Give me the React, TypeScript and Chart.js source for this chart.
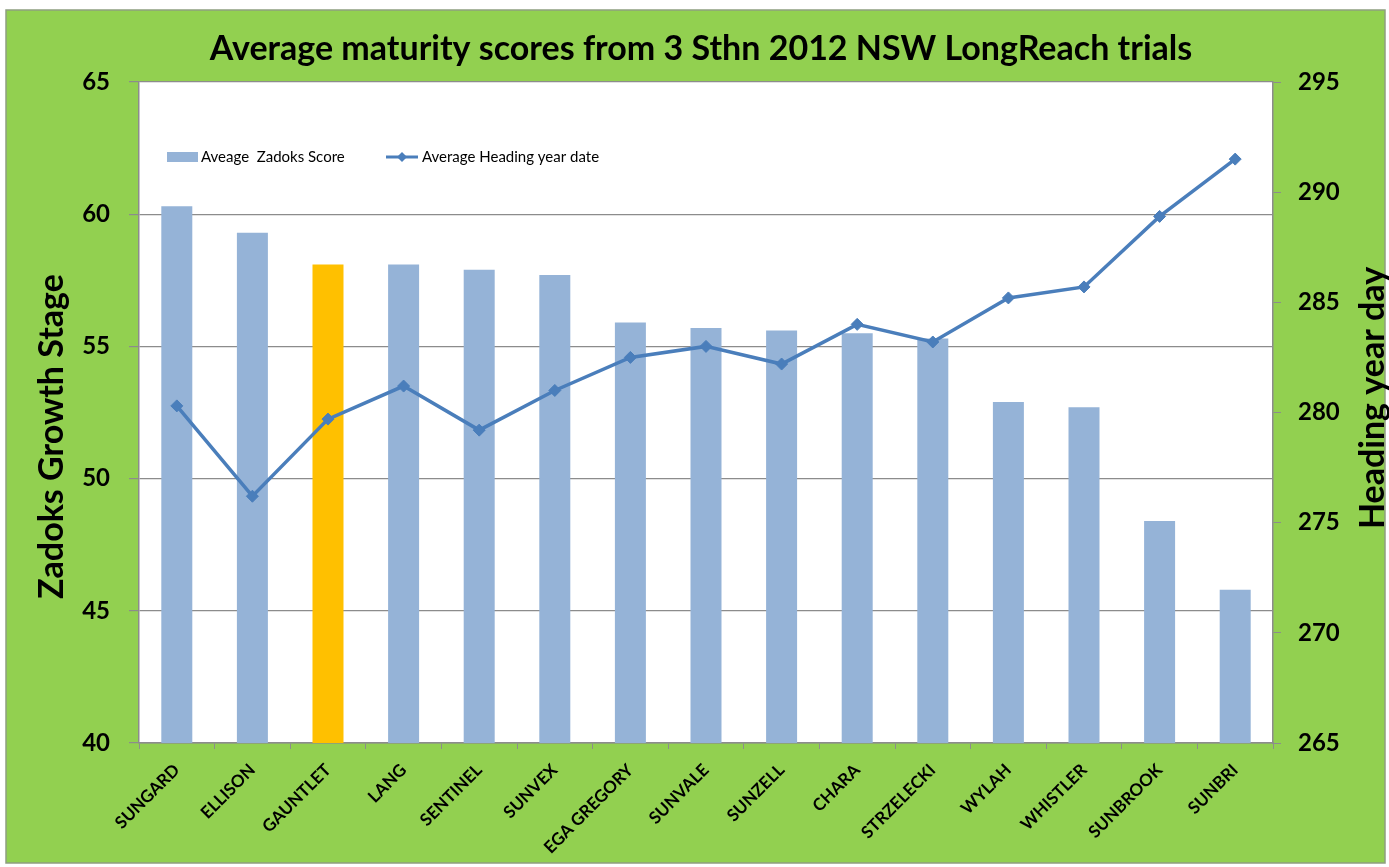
import React, { useEffect, useRef } from "react";
import { Chart, registerables } from "chart.js";

Chart.register(...registerables);

const categories = [
  "SUNGARD", "ELLISON", "GAUNTLET", "LANG", "SENTINEL", "SUNVEX", "EGA GREGORY",
  "SUNVALE", "SUNZELL", "CHARA", "STRZELECKI", "WYLAH", "WHISTLER", "SUNBROOK", "SUNBRI",
];
const zadoksScores = [60.3, 59.3, 58.1, 58.1, 57.9, 57.7, 55.9, 55.7, 55.6, 55.5, 55.3, 52.9, 52.7, 48.4, 45.8];
const headingDays = [280.3, 276.2, 279.7, 281.2, 279.2, 281.0, 282.5, 283.0, 282.2, 284.0, 283.2, 285.2, 285.7, 288.9, 291.5];
const leftAxisRange = [40, 65];
const rightAxisRange = [265, 295];
const tickStep = 5;
const highlightedCategory = "GAUNTLET";

const titleText = "Average maturity scores from 3 Sthn 2012 NSW LongReach trials";
const barLabel = "Aveage  Zadoks Score";
const lineLabel = "Average Heading year date";
const leftAxisTitle = "Zadoks Growth Stage";
const rightAxisTitle = "Heading year day";

const W = 1389;
const H = 867;
const FONT = "Lato, 'Open Sans', sans-serif";
const GREEN = "#92D050";
const BAR = "#95B3D7";
const HIGHLIGHT = "#FFC000";
const LINE = "#4A7EBB";
const GRID = "#8C8C8C";

const AREA = { left: 139, right: 1273, top: 82, bottom: 743 };
const PAD = { left: 20, right: 7, top: 10, bottom: 5 };

const decorPlugin = {
  id: "decor",
  beforeDraw(chart: any) {
    const ctx = chart.ctx;
    const ca = chart.chartArea;
    ctx.save();
    ctx.fillStyle = "#ffffff";
    ctx.fillRect(0, 0, W, H);
    ctx.fillStyle = GREEN;
    ctx.fillRect(6, 10, W - 10, H - 14);
    ctx.strokeStyle = "#8E9E80";
    ctx.lineWidth = 1.5;
    ctx.strokeRect(6, 10, W - 10, H - 14);
    ctx.fillStyle = "#ffffff";
    ctx.fillRect(ca.left, ca.top, ca.right - ca.left, ca.bottom - ca.top);
    ctx.restore();
  },
  afterDraw(chart: any) {
    const ctx = chart.ctx;
    const ca = chart.chartArea;
    ctx.save();
    // axis titles
    ctx.fillStyle = "#000";
    ctx.font = `bold 34px ${FONT}`;
    ctx.textAlign = "center";
    ctx.textBaseline = "middle";
    ctx.save();
    ctx.translate(52, (ca.top + ca.bottom) / 2 + 24);
    ctx.rotate(-Math.PI / 2);
    ctx.fillText(leftAxisTitle, 0, 0);
    ctx.restore();
    ctx.save();
    ctx.translate(1373, 398);
    ctx.rotate(-Math.PI / 2);
    ctx.fillText(rightAxisTitle, 0, 0);
    ctx.restore();

    // legend inside plot area
    const ly = 157;
    ctx.fillStyle = BAR;
    ctx.fillRect(167, ly - 5, 31, 10);
    ctx.fillStyle = "#000";
    ctx.font = `15px ${FONT}`;
    ctx.textAlign = "left";
    ctx.textBaseline = "middle";
    ctx.fillText(barLabel, 201, ly);
    ctx.strokeStyle = LINE;
    ctx.lineWidth = 3;
    ctx.beginPath();
    ctx.moveTo(386, ly);
    ctx.lineTo(418, ly);
    ctx.stroke();
    ctx.fillStyle = LINE;
    ctx.beginPath();
    ctx.moveTo(402, ly - 5);
    ctx.lineTo(407, ly);
    ctx.lineTo(402, ly + 5);
    ctx.lineTo(397, ly);
    ctx.closePath();
    ctx.fill();
    ctx.fillStyle = "#000";
    ctx.fillText(lineLabel, 422, ly);
    ctx.restore();
  },
};

export default function App() {
  const ref = useRef<HTMLCanvasElement | null>(null);

  useEffect(() => {
    if (!ref.current) return;
    const chart = new Chart(ref.current, {
      type: "bar",
      data: {
        labels: categories,
        datasets: [
          {
            type: "line",
            label: lineLabel,
            data: headingDays,
            yAxisID: "y1",
            borderColor: LINE,
            backgroundColor: LINE,
            borderWidth: 3.5,
            pointStyle: "rectRot",
            pointRadius: 6,
            pointBorderWidth: 1,
            pointBackgroundColor: LINE,
            pointBorderColor: LINE,
            tension: 0,
            order: 0,
          } as any,
          {
            type: "bar",
            label: barLabel,
            data: zadoksScores,
            yAxisID: "y",
            backgroundColor: categories.map((c) => (c === highlightedCategory ? HIGHLIGHT : BAR)),
            borderWidth: 0,
            categoryPercentage: 1,
            barPercentage: 0.41,
            order: 1,
          } as any,
        ],
      },
      options: {
        responsive: false,
        animation: false,
        layout: { padding: PAD },
        plugins: {
          legend: { display: false },
          tooltip: { enabled: false },
          title: {
            display: true,
            text: titleText,
            color: "#000",
            font: { family: FONT, weight: "bold", size: 34, lineHeight: 1.2 },
            padding: { top: 19, bottom: 12.2 },
          },
        },
        scales: {
          x: {
            type: "category",
            offset: true,
            grid: { offset: true, drawOnChartArea: false, drawTicks: true, tickLength: 6, color: GRID },
            border: { color: GRID, width: 1.5 },
            ticks: {
              color: "#000",
              font: { family: FONT, weight: "bold", size: 17 },
              minRotation: 45,
              maxRotation: 45,
              autoSkip: false,
              padding: 11,
            },
            afterFit: (scale: any) => {
              scale.height = H - PAD.bottom - AREA.bottom;
            },
          },
          y: {
            position: "left",
            min: leftAxisRange[0],
            max: leftAxisRange[1],
            grid: { color: GRID, tickLength: 10, lineWidth: 1.2 },
            border: { color: GRID, width: 1.5 },
            ticks: {
              stepSize: tickStep,
              color: "#000",
              font: { family: FONT, weight: "bold", size: 24 },
              padding: 19,
            },
            afterFit: (scale: any) => {
              scale.width = AREA.left - PAD.left;
            },
          },
          y1: {
            position: "right",
            min: rightAxisRange[0],
            max: rightAxisRange[1],
            grid: { drawOnChartArea: false, color: GRID, tickLength: 8 },
            border: { color: GRID, width: 1.5 },
            ticks: {
              stepSize: tickStep,
              color: "#000",
              font: { family: FONT, weight: "bold", size: 24 },
              padding: 17,
            },
            afterFit: (scale: any) => {
              scale.width = W - PAD.right - AREA.right;
            },
          },
        },
      },
      plugins: [decorPlugin],
    });
    return () => chart.destroy();
  }, []);

  return (
    <div style={{ position: "fixed", left: 0, top: 0, width: W, height: H }}>
      <canvas ref={ref} width={W} height={H} style={{ width: W, height: H, display: "block" }} />
    </div>
  );
}
